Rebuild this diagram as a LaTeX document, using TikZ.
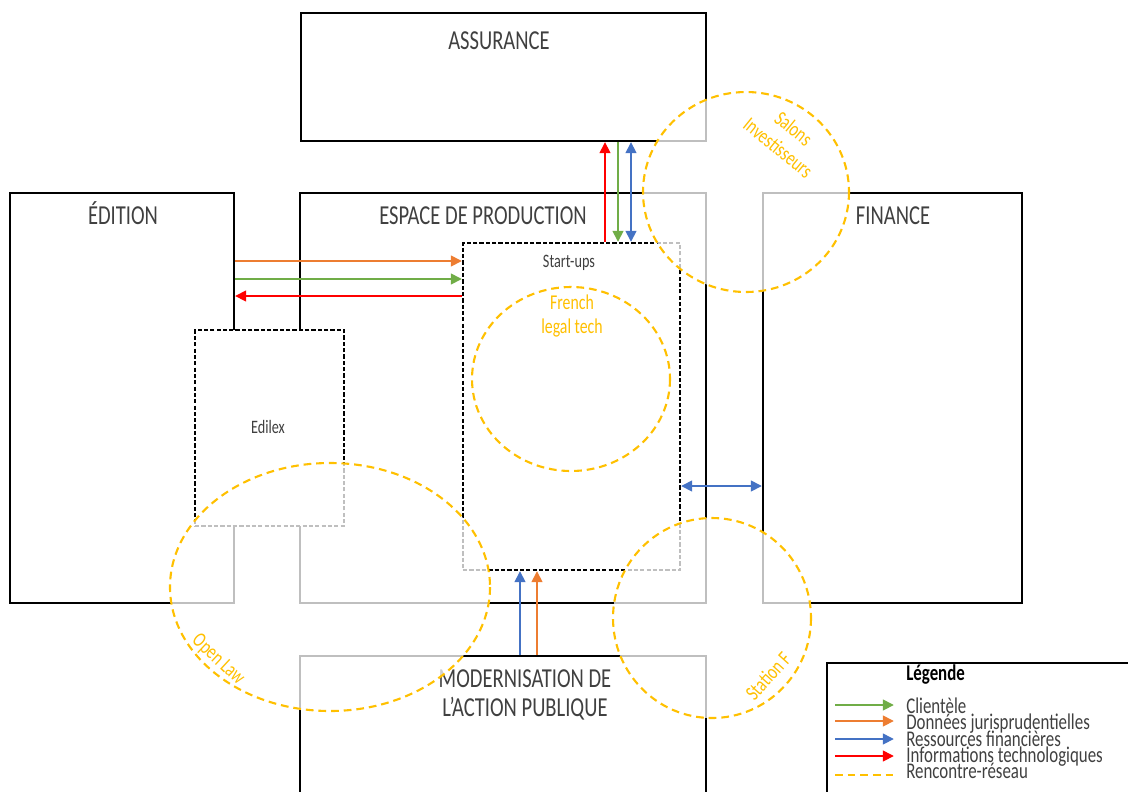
\documentclass[tikz,border=0pt]{standalone}
\usepackage{fontspec}
\setmainfont{Carlito}[FakeStretch=0.75]
\usetikzlibrary{arrows.meta,positioning}

\definecolor{vert}{HTML}{70AD47}
\definecolor{donnees}{HTML}{ED7D31}
\definecolor{ressources}{HTML}{4472C4}
\definecolor{infos}{HTML}{FF0000}
\definecolor{jaune}{HTML}{FFC000}
\definecolor{texte}{HTML}{404040}

\newcommand\pxu{0.025cm}

\tikzset{
	zone/.style={draw=black, line width=1.4pt, anchor=north west, inner sep=0pt},
	souszone/.style={zone, dash pattern=on 3pt off 1.5pt, fill=white},
	reseau/.style={draw=jaune, line width=1.5pt, dash pattern=on 5.5pt off 3.5pt, fill=white, fill opacity=0.75},
	titre/.style={text=texte, font=\fontsize{19.5}{21}\selectfont, inner sep=0pt},
	petit/.style={text=texte, font=\fontsize{13.5}{15}\selectfont, inner sep=0pt},
	etiquette/.style={text=jaune, font=\fontsize{15}{17.5}\selectfont, inner sep=0pt, align=center},
	legtexte/.style={text=texte, font=\fontsize{16}{18}\selectfont, inner sep=0pt, anchor=base west},
	flux/.style={line width=2.1pt, -{Triangle[length=8pt,width=7.5pt]}},
	bflux/.style={line width=2.1pt, {Triangle[length=8pt,width=7.5pt]}-{Triangle[length=8pt,width=7.5pt]}},
}

\begin{document}
\begin{tikzpicture}[x=\pxu, y=-\pxu]
	\useasboundingbox (0,0) rectangle (1128,791);
	% domaines
	\node[zone, minimum width=405*\pxu, minimum height=128*\pxu] (assurance) at (300,12) {};
	\node[zone, minimum width=224*\pxu, minimum height=410*\pxu] (edition) at (9,192) {};
	\node[zone, minimum width=406*\pxu, minimum height=410*\pxu] (espace) at (299,192) {};
	\node[zone, minimum width=259*\pxu, minimum height=410*\pxu] (finance) at (762,192) {};
	\node[zone, minimum width=406*\pxu, minimum height=170*\pxu] (modernisation) at (299,655) {};
	% sous-ensembles
	\node[souszone, minimum width=149*\pxu, minimum height=196*\pxu] (edilex) at (194,329) {};
	\node[souszone, minimum width=217*\pxu, minimum height=327*\pxu] (startups) at (462,242) {};
	% titres
	\node[titre, anchor=base] (tassurance) at (499,49) {ASSURANCE};
	\node[titre, anchor=base] (tedition) at (123,224) {ÉDITION};
	\node[titre, anchor=base] (tespace) at (483,224) {ESPACE DE PRODUCTION};
	\node[titre, anchor=base] (tfinance) at (893,224) {FINANCE};
	\node[titre, align=center] (tmodernisation) at (525,695) {MODERNISATION DE\\L'ACTION PUBLIQUE};
	\node[petit] (tstartups) at (569,263) {Start-ups};
	\node[petit] (tedilex) at (268,427) {Edilex};
	% rencontres
	\draw[reseau] (746,192) ellipse [x radius=103, y radius=100];
	\draw[reseau] (571,379) ellipse [x radius=99, y radius=92];
	\draw[reseau] (330,587) ellipse [x radius=160, y radius=124];
	\draw[reseau] (712,618) ellipse [x radius=99, y radius=100];
	\node[etiquette, rotate=-39] (salons) at (786,138) {Salons\\Investisseurs};
	\node[etiquette] (frenchtech) at (572,316) {French\\legal tech};
	\node[etiquette, rotate=-43] (openlaw) at (218,660) {Open Law};
	\node[etiquette, rotate=48] (stationf) at (768,676) {Station F};
	% flux
	\coordinate (xinfo) at (605,0);
	\coordinate (xclient) at (618,0);
	\coordinate (xfin) at (631,0);
	\draw[flux, infos] (xinfo |- startups.north) -- (xinfo |- assurance.south);
	\draw[flux, vert] (xclient |- assurance.south) -- (xclient |- startups.north);
	\draw[bflux, ressources] (xfin |- assurance.south) -- (xfin |- startups.north);
	\coordinate (ydonnees) at (0,261);
	\coordinate (yclient) at (0,279);
	\coordinate (yinfo) at (0,296);
	\draw[flux, donnees] (ydonnees -| edition.east) -- (ydonnees -| startups.west);
	\draw[flux, vert] (yclient -| edition.east) -- (yclient -| startups.west);
	\draw[flux, infos] (yinfo -| startups.west) -- (yinfo -| edition.east);
	\coordinate (yfin) at (0,486);
	\draw[bflux, ressources] (yfin -| startups.east) -- (yfin -| finance.west);
	\coordinate (xmfin) at (520,0);
	\coordinate (xmdonnees) at (537,0);
	\draw[flux, ressources] (xmfin |- modernisation.north) -- (xmfin |- startups.south);
	\draw[flux, donnees] (xmdonnees |- modernisation.north) -- (xmdonnees |- startups.south);
	% legende
	\node[zone, minimum width=330*\pxu, minimum height=150*\pxu] (legende) at (826,662) {};
	\node[legtexte, text=black, font=\fontsize{16}{18}\selectfont\bfseries] (tlegende) at (906,680) {Légende};
	\node[legtexte] (lclient) at (906,713) {Clientèle};
	\node[legtexte] (ldonnees) at (906,729) {Données jurisprudentielles};
	\node[legtexte] (lfin) at (906,746) {Ressources financières};
	\node[legtexte] (linfo) at (906,762) {Informations technologiques};
	\node[legtexte] (lreseau) at (906,778) {Rencontre-réseau};
	\coordinate (l1) at (835,705);
	\coordinate (l2) at (835,721);
	\coordinate (l3) at (835,739);
	\coordinate (l4) at (835,756);
	\coordinate (l5) at (835,775);
	\draw[flux, vert] (l1) -- ++(59,0);
	\draw[flux, donnees] (l2) -- ++(59,0);
	\draw[flux, ressources] (l3) -- ++(59,0);
	\draw[flux, infos] (l4) -- ++(59,0);
	\draw[jaune, line width=1.5pt, dash pattern=on 5.5pt off 3.5pt] (l5) -- ++(59,0);
\end{tikzpicture}
\end{document}
